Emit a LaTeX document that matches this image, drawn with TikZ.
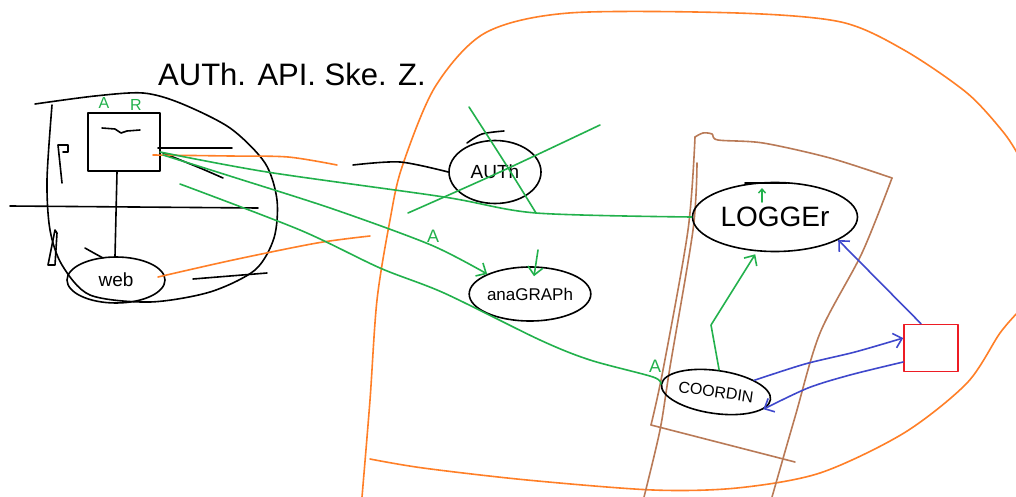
\documentclass[tikz,border=0pt]{standalone}
\usepackage{fontspec}
\setmainfont{Liberation Sans}
\usetikzlibrary{shapes.geometric,arrows.meta}
\definecolor{hgreen}{RGB}{34,177,76}
\definecolor{horange}{RGB}{255,127,39}
\definecolor{hbrown}{RGB}{185,122,87}
\definecolor{hblue}{RGB}{63,72,204}
\definecolor{hred}{RGB}{237,28,36}
\begin{document}
\begin{tikzpicture}[x=1pt,y=-1pt,line cap=round,line join=round,
  ink/.style={line width=1.6pt},
  blk/.style={ink,draw=black},
  grn/.style={ink,draw=hgreen},
  org/.style={ink,draw=horange},
  brn/.style={ink,draw=hbrown},
  blu/.style={ink,draw=hblue},
  barb/.style={-{Straight Barb[length=8pt,width=15pt,line width=1.6pt]}},
  smallbarb/.style={-{Straight Barb[length=4pt,width=7pt,line width=1.4pt]}},
  oval/.style={ellipse,draw=black,ink,inner sep=0pt},
  fs/.style={font=\fontsize{#1}{#1}\selectfont},
  glbl/.style={text=hgreen,inner sep=0pt,font=\fontsize{#1}{#1}\selectfont},
]
\useasboundingbox (0,0) rectangle (1016,497);
\fill[white] (0,0) rectangle (1016,497);

% orange outline
\draw[org] plot[smooth] coordinates {(362,497) (370,400) (377,300) (390,220) (402,167) (435,87) (485,33) (569,13) (737,13) (841,22) (904,50) (967,93) (1004,133) (1020,158)};
\draw[org] plot[smooth] coordinates {(1020,310) (1000,333) (967,383) (904,433) (820,473) (737,488) (653,490) (527,480) (423,468) (370,459)};

% brown outline
\draw[brn] (795,462) -- (651,425);
\draw[brn] plot[smooth] coordinates {(651,425) (663,370) (688,230) (695,137)};
\draw[brn] plot[smooth] coordinates {(695,137) (703,133) (712,134) (718,140) (763,143) (830,158) (892,178)};
\draw[brn] plot[smooth] coordinates {(892,178) (862,253) (820,333) (795,417) (772,497)};
\draw[brn] plot[smooth] coordinates {(697,163) (693,230) (670,367) (660,430) (644,497)};

% title
\node[anchor=west,fs=31,inner sep=0pt] (title) at (158,74) {AUTh. API. Ske. Z.};

% left blob
\draw[blk] plot[smooth] coordinates {(52,105) (47,180) (50,230) (62,265) (90,295) (150,302) (210,292) (255,270) (274,238) (277,200) (265,163) (230,128) (180,103) (143,93) (95,96) (35,104)};
\draw[blk] (10,206) -- (258,208);
\draw[blk] (62,183) -- (58,145) -- (68,145) -- (68,152) -- (63,152);
\draw[blk] (55,230) -- (48,265) -- (55,265) -- (57,233) -- cycle;
\draw[blk] (85,248) .. controls (92,252) .. (103,258);
\draw[blk] (193,279) -- (267,273);

% nodes
\node[draw=black,ink,minimum width=72pt,minimum height=58pt,inner sep=0pt] (ar) at (124,142) {};
\draw[blk] (102,128) -- (115,129) -- (121,133) -- (127,131) -- (140,130);
\node[glbl=16] (la) at (104,103) {A};
\node[glbl=16] (lr) at (136,105) {R};
\node[oval,minimum width=98pt,minimum height=46pt,fs=19] (web) at (116,280) {web};
\node[oval,minimum width=92pt,minimum height=63pt,fs=19] (auth) at (495,172) {AUTh};
\node[oval,minimum width=92pt,minimum height=54pt,fs=17] (anag) at (530,294) {anaGRAPh};
\node[oval,minimum width=165pt,minimum height=69pt,fs=28] (logger) at (775,217) {LOGGEr};
\node[oval,minimum width=110pt,minimum height=43pt,fs=16,rotate=-8] (coordin) at (716,392) {COORDIN};
\node[draw=hred,ink,minimum width=54pt,minimum height=47pt,inner sep=0pt] (red) at (931,348) {};

% black connectors
\draw[blk] ([xshift=-7pt]ar.south) -- ([xshift=-1pt]web.north);
\draw[blk] (158,148) -- (232,148);
\draw[blk] plot[smooth] coordinates {(163,153) (200,168) (223,178)};
\draw[blk] plot[smooth] coordinates {(353,165) (400,162) (auth.west)};
\draw[blk] plot[smooth] coordinates {(467,143) (482,134) (504,131)};
\draw[blk] (745,183) -- (787,183);

% orange lines
\draw[org] plot[smooth] coordinates {(153,155) (230,156) (288,157) (337,165)};
\draw[org] plot[smooth] coordinates {(158,277) (233,260) (317,243) (370,236)};

% green lines
\draw[grn] plot[smooth] coordinates {(160,152) (267,172) (444,197) (536,213) (logger.west)};
\draw[grn,barb] plot[smooth] coordinates {(163,155) (233,177) (333,209) (431,245) (anag.155)};
\draw[grn] plot[smooth] coordinates {(180,184) (300,230) (380,268) (444,293) (540,340) (590,360) (653,377) (coordin.west)};
\draw[grn] plot[smooth] coordinates {(469,107) (505,163) (536,213)};
\draw[grn] plot[smooth] coordinates {(408,213) (500,172) (600,125)};
\draw[grn,barb] (538,250) -- ([xshift=4pt,yshift=-10pt]anag.north);
\draw[grn,barb] (coordin.north) -- (711,325) -- ([yshift=-3pt]logger.240);
\draw[grn,smallbarb] (762,202) -- (762,188);
\node[glbl=18] (a1) at (433,236) {A};
\node[glbl=18] (a2) at (655,366) {A};

% blue arrows
\draw[blu,barb] plot[smooth] coordinates {(coordin.25) (805,364) (855,352) ([yshift=10pt]red.west)};
\draw[blu,barb] plot[smooth] coordinates {([yshift=-14pt]red.west) (850,375) (808,388) (coordin.-12)};
\draw[blu,barb] ([xshift=-10pt]red.north) -- (logger.-20);
\end{tikzpicture}
\end{document}
